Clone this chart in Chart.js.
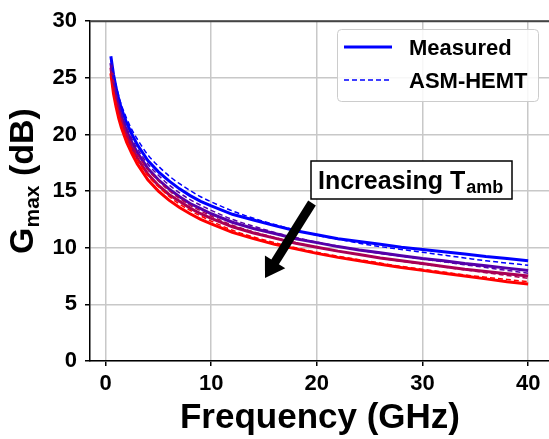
<!DOCTYPE html>
<html>
<head>
<meta charset="utf-8">
<script src="https://cdn.jsdelivr.net/npm/chart.js@4.4.0/dist/chart.umd.min.js"></script>
<style>
  html, body { margin: 0; padding: 0; background: #fff; }
  #wrap { width: 549px; height: 439px; }
</style>
</head>
<body>
<div id="wrap"><canvas id="c" width="549" height="439"></canvas></div>
<script>
// frequency points (GHz)
const freq = [0.5, 0.75, 1, 1.25, 1.5, 2, 2.5, 3, 4, 5, 6, 7, 8, 9, 10, 12, 14, 16, 18, 20, 22, 24, 26, 28, 30, 32, 34, 36, 38, 40];

// measured Gmax (dB), coolest -> hottest
const measuredT1 = [26.9, 25.3, 24.1, 23.1, 22.3, 21.0, 20.0, 19.1, 17.7, 16.7, 15.9, 15.2, 14.6, 14.1, 13.7, 12.95, 12.45, 11.95, 11.5, 11.15, 10.8, 10.55, 10.3, 10.05, 9.85, 9.65, 9.45, 9.22, 9.05, 8.85];
const measuredT2 = [26.3, 24.6, 23.4, 22.4, 21.6, 20.3, 19.3, 18.4, 17.0, 16.0, 15.2, 14.5, 13.9, 13.45, 13.0, 12.25, 11.7, 11.25, 10.8, 10.45, 10.1, 9.8, 9.55, 9.3, 9.05, 8.85, 8.6, 8.4, 8.2, 8.0];
const measuredT3 = [25.9, 24.1, 22.9, 21.9, 21.1, 19.8, 18.8, 17.9, 16.5, 15.5, 14.7, 14.1, 13.5, 13.0, 12.6, 11.85, 11.3, 10.85, 10.4, 10.05, 9.7, 9.4, 9.1, 8.85, 8.6, 8.35, 8.1, 7.9, 7.7, 7.5];
const measuredT4 = [25.4, 23.6, 22.4, 21.4, 20.6, 19.3, 18.3, 17.4, 16.0, 15.0, 14.2, 13.55, 13.0, 12.5, 12.1, 11.35, 10.8, 10.3, 9.9, 9.5, 9.15, 8.85, 8.55, 8.25, 8.0, 7.75, 7.5, 7.25, 7.0, 6.8];

// ASM-HEMT model
const modelT1 = [26.6, 25.3, 24.3, 23.4, 22.6, 21.4, 20.4, 19.6, 18.2, 17.2, 16.35, 15.65, 15.05, 14.5, 14.05, 13.25, 12.6, 12.05, 11.55, 11.1, 10.75, 10.4, 10.1, 9.85, 9.6, 9.35, 9.1, 8.85, 8.65, 8.45];
const modelT2 = [26.0, 24.6, 23.5, 22.6, 21.8, 20.6, 19.6, 18.75, 17.4, 16.4, 15.55, 14.85, 14.25, 13.75, 13.3, 12.5, 11.9, 11.35, 10.9, 10.5, 10.15, 9.8, 9.5, 9.25, 9.0, 8.75, 8.5, 8.25, 8.0, 7.75];
const modelT3 = [25.6, 24.2, 23.1, 22.2, 21.4, 20.1, 19.1, 18.25, 16.9, 15.9, 15.05, 14.35, 13.75, 13.25, 12.8, 12.0, 11.4, 10.9, 10.45, 10.05, 9.7, 9.4, 9.1, 8.8, 8.55, 8.3, 8.05, 7.8, 7.55, 7.3];
const modelT4 = [25.2, 23.7, 22.6, 21.7, 20.9, 19.6, 18.6, 17.75, 16.4, 15.4, 14.55, 13.85, 13.3, 12.8, 12.35, 11.55, 10.95, 10.45, 10.0, 9.6, 9.25, 8.95, 8.65, 8.35, 8.1, 7.85, 7.6, 7.4, 7.2, 7.0];

const xTicks = [0, 10, 20, 30, 40];
const yTicks = [0, 5, 10, 15, 20, 25, 30];
const colors = ['#0000ff', '#5500aa', '#aa0055', '#ff0000'];
const legendLabels = ['Measured', 'ASM-HEMT'];

const FONT = '"Liberation Sans", Arial, sans-serif';

function pts(ys) {
  return ys.map((y, i) => ({ x: freq[i], y: y }));
}

const measured = [measuredT1, measuredT2, measuredT3, measuredT4];
const model = [modelT1, modelT2, modelT3, modelT4];

// chart.js draws the first dataset on top, so models go first
let datasets = [];
for (let i = model.length - 1; i >= 0; i--) {
  datasets.push({
    data: pts(model[i]),
    borderColor: colors[i],
    borderWidth: 1.5,
    borderDash: [5, 3],
    pointRadius: 0,
    fill: false,
    cubicInterpolationMode: 'monotone'
  });
}
for (let i = measured.length - 1; i >= 0; i--) {
  datasets.push({
    data: pts(measured[i]),
    borderColor: colors[i],
    borderWidth: 3,
    pointRadius: 0,
    fill: false,
    tension: 0
  });
}

const overlay = {
  id: 'overlay',
  afterDraw(chart) {
    const ctx = chart.ctx;
    const a = chart.chartArea;
    ctx.save();

    // top spine
    ctx.strokeStyle = '#444';
    ctx.lineWidth = 2;
    ctx.beginPath();
    ctx.moveTo(a.left, a.top);
    ctx.lineTo(a.right, a.top);
    ctx.stroke();

    // legend
    ctx.fillStyle = 'rgba(255,255,255,0.85)';
    ctx.strokeStyle = '#cccccc';
    ctx.lineWidth = 1;
    ctx.beginPath();
    ctx.roundRect(337.5, 29.5, 201, 72, 4);
    ctx.fill();
    ctx.stroke();
    ctx.strokeStyle = colors[0];
    ctx.lineWidth = 3;
    ctx.beginPath();
    ctx.moveTo(344, 47);
    ctx.lineTo(392, 47);
    ctx.stroke();
    ctx.lineWidth = 1.5;
    ctx.setLineDash([5, 3]);
    ctx.beginPath();
    ctx.moveTo(344, 80);
    ctx.lineTo(392, 80);
    ctx.stroke();
    ctx.setLineDash([]);
    ctx.fillStyle = '#000';
    ctx.font = 'bold 22px ' + FONT;
    ctx.textBaseline = 'alphabetic';
    ctx.textAlign = 'left';
    ctx.fillText(legendLabels[0], 409, 55);
    ctx.fillText(legendLabels[1], 409, 88);

    // annotation box
    ctx.fillStyle = '#fff';
    ctx.strokeStyle = '#000';
    ctx.lineWidth = 1.5;
    ctx.fillRect(311, 161, 201, 38);
    ctx.strokeRect(311, 161, 201, 38);
    ctx.fillStyle = '#000';
    ctx.font = 'bold 25px ' + FONT;
    ctx.fillText('Increasing T', 318, 189);
    const w = ctx.measureText('Increasing T').width;
    ctx.font = 'bold 18px ' + FONT;
    ctx.fillText('amb', 318 + w + 1, 193);

    // arrow
    const x0 = 312, y0 = 203, x1 = 265, y1 = 278;
    const dx = x1 - x0, dy = y1 - y0, L = Math.hypot(dx, dy);
    const ux = dx / L, uy = dy / L;
    const bx = x1 - ux * 19, by = y1 - uy * 19;
    ctx.strokeStyle = '#000';
    ctx.lineWidth = 9;
    ctx.beginPath();
    ctx.moveTo(x0, y0);
    ctx.lineTo(bx + ux * 2, by + uy * 2);
    ctx.stroke();
    ctx.beginPath();
    ctx.moveTo(x1, y1);
    ctx.lineTo(bx - uy * 12, by + ux * 12);
    ctx.lineTo(bx + uy * 12, by - ux * 12);
    ctx.closePath();
    ctx.fill();

    // x axis title
    ctx.font = 'bold 35px ' + FONT;
    ctx.textAlign = 'center';
    ctx.fillText('Frequency (GHz)', 320, 428);

    // y axis title with subscript
    ctx.translate(33, 181);
    ctx.rotate(-Math.PI / 2);
    ctx.textAlign = 'left';
    ctx.font = 'bold 34px ' + FONT;
    const g = ctx.measureText('G').width;
    ctx.font = 'bold 21px ' + FONT;
    const m = ctx.measureText('max').width;
    ctx.font = 'bold 34px ' + FONT;
    const rest = ctx.measureText(' (dB)').width;
    const total = g + m + rest;
    let sx = -total / 2;
    ctx.fillText('G', sx, 0);
    ctx.font = 'bold 21px ' + FONT;
    ctx.fillText('max', sx + g, 6);
    ctx.font = 'bold 34px ' + FONT;
    ctx.fillText(' (dB)', sx + g + m, 0);

    ctx.restore();
  }
};

new Chart(document.getElementById('c'), {
  type: 'line',
  data: { datasets: datasets },
  plugins: [overlay],
  options: {
    responsive: false,
    animation: false,
    events: [],
    layout: { padding: { top: 18, right: 0, left: 0, bottom: 0 } },
    plugins: { legend: { display: false }, tooltip: { enabled: false } },
    scales: {
      x: {
        type: 'linear',
        min: -1.475,
        max: 41.975,
        afterFit: s => { s.height = 78; },
        afterBuildTicks: s => { s.ticks = xTicks.map(v => ({ value: v })); },
        grid: { color: '#c8c8c8', lineWidth: 1.5, tickColor: '#000', tickLength: 5 },
        border: { color: '#000', width: 1.5 },
        ticks: { color: '#000', padding: 5, font: { family: FONT, size: 22, weight: 'bold' } }
      },
      y: {
        min: 0,
        max: 30,
        afterFit: s => { s.width = 90; },
        afterBuildTicks: s => { s.ticks = yTicks.map(v => ({ value: v })); },
        grid: { color: '#c8c8c8', lineWidth: 1.5, tickColor: '#000', tickLength: 5 },
        border: { color: '#000', width: 1.5 },
        ticks: { color: '#000', padding: 8, font: { family: FONT, size: 22, weight: 'bold' } }
      }
    }
  }
});
</script>
</body>
</html>
